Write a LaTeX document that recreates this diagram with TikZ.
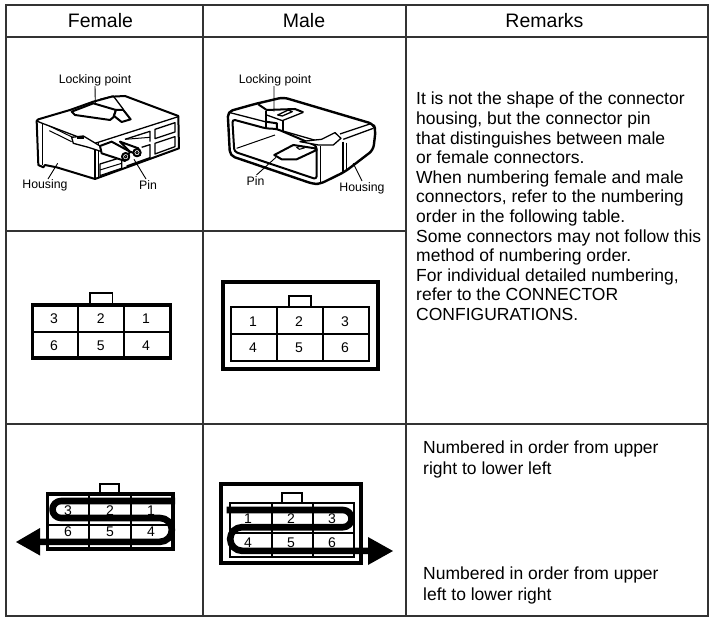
\documentclass[tikz,border=0pt]{standalone}
\usepackage{fontspec}
\setmainfont{Liberation Sans}
\tikzset{
 x=1pt,y=-1pt,
 grid/.style={line width=1.2pt,draw=black!80},
 head/.style={font=\fontsize{19.5}{22}\selectfont,anchor=center,inner sep=0pt},
 lab/.style={font=\fontsize{12.3}{14}\selectfont,inner sep=0pt},
 num/.style={font=\fontsize{14}{16}\selectfont,inner sep=0pt},
 body/.style={font=\fontsize{17.5}{19.6}\selectfont,inner sep=0pt,align=left,anchor=north west},
 cell/.style={line width=1.9pt},
 tabline/.style={line width=1.5pt},
 heavy/.style={line width=3.8pt},
 snake/.style={line width=6.6pt,line join=round},
 leader/.style={line width=0.9pt},
 art/.style={line width=1pt,line join=round},
 artm/.style={line width=1.3pt,line join=round},
 artb/.style={line width=2pt,line join=round},
}
\begin{document}
\begin{tikzpicture}
\useasboundingbox (0,0) rectangle (710,621);
\fill[white] (0,0) rectangle (710,621);
% table
\draw[grid] (6,5) rectangle (708,616);
\draw[grid] (6,37) -- (708,37);
\draw[grid] (203,5) -- (203,616);
\draw[grid] (406,5) -- (406,616);
\draw[grid] (6,231) -- (406,231);
\draw[grid] (6,424) -- (708,424);
\node[head] (hf) at (100.5,21) {Female};
\node[head] (hm) at (304,21) {Male};
\node[head] (hr) at (544.5,21) {Remarks};
% remarks
\node[body] (rem) at (416,92) {It is not the shape of the connector\\housing, but the connector pin\\that distinguishes between male\\or female connectors.\\When numbering female and male\\connectors, refer to the numbering\\order in the following table.\\Some connectors may not follow this\\method of numbering order.\\For individual detailed numbering,\\refer to the CONNECTOR\\CONFIGURATIONS.};
\node[body] (ra) at (423,440.5) {Numbered in order from upper\\[2pt]right to lower left};
\node[body] (rb) at (423,566.5) {Numbered in order from upper\\[1.5pt]left to lower right};

% female connector drawing
\begin{scope}[x=0.3333pt,y=-0.3333pt,shift={(30,180)}]
\draw[artb,fill=white] (80,183) -- (85,178) -- (180,150) -- (250,125) -- (305,110) -- (345,108) -- (505,168) -- (507,265) -- (255,357) -- (140,322) -- (105,315) -- (100,322) -- (85,315) -- cycle;
\draw[artm] (97,190) -- (97,315);
\draw[artm] (80,183) -- (97,190) -- (255,250) -- (505,170);
\draw[artm] (255,250) -- (255,357);
\draw[artm] (265,250) -- (265,350);
% holes
\draw[artm] (435,208) -- (495,188) -- (495,216) -- (435,236) -- cycle;
\draw[artm] (435,250) -- (495,230) -- (495,260) -- (435,282) -- cycle;
\draw[artm] (345,238) -- (420,214) -- (420,245);
\draw[art] (345,238) -- (420,232);
\draw[artm] (395,262) -- (420,254) -- (420,293) -- (350,318);
\draw[artm] (270,312) -- (335,292) -- (335,325) -- (270,347) -- cycle;
\draw[art] (270,330) -- (335,310);
% lock
\draw[artb,fill=white] (185,155) -- (250,130) -- (318,150) -- (310,172) -- (300,180) -- (195,165) -- cycle;
\draw[artb,fill=white] (318,150) -- (340,150) -- (362,178) -- (335,186) -- (312,168) -- cycle;
\draw[artm] (270,118) -- (310,108) -- (340,148);
% wire and crimp
\draw[art] (118,198) -- (188,232);
\draw[art] (118,212) -- (185,245);
\draw[artm,fill=white] (185,232) -- (220,228) -- (270,258) -- (275,275) -- (235,262) -- (190,250) -- cycle;
\fill[black] (200,228) rectangle (222,238);
\draw[artb,fill=white] (305,245) -- (360,275) -- (345,303) -- (275,280) -- (270,258) -- cycle;
\draw[artb,fill=white] (330,245) -- (385,265) -- (390,285) -- (360,275) -- cycle;
\draw[artb,fill=white] (347,290) circle (11);
\draw[artb,fill=white] (381,278) circle (11);
\draw[art] (347,290) circle (4);
\draw[art] (381,278) circle (4);
\coordinate (flock) at (256,132);
\coordinate (fhouse) at (143,310);
\coordinate (fpin) at (372,298);
\end{scope}
\node[lab] (fl) at (95,80) {Locking point};
\node[lab] (fh) at (45,185) {Housing};
\node[lab] (fp) at (148,185) {Pin};
\draw[leader] (fl) ++(0,6) -- (flock);
\draw[leader] (fh) ++(3,-6) -- (fhouse);
\draw[leader] (fp) ++(-2,-6) -- (fpin);

% male connector drawing
\begin{scope}[x=0.3333pt,y=-0.3333pt,shift={(615,180)}]
\draw[line width=2.4pt,line join=round,fill=white,rounded corners=5pt] (68,155) -- (150,132) -- (235,112) -- (505,192) -- (512,210) -- (505,270) -- (420,335) -- (345,372) -- (325,372) -- (75,287) -- cycle;
\draw[artb,rounded corners=3pt] (82,178) -- (182,205) -- (216,207) -- (335,258) -- (335,358) -- (88,275) -- cycle;
\draw[artm] (75,158) -- (180,185);
\draw[art] (95,265) -- (210,225);
\draw[artm] (346,258) -- (346,370);
\draw[artb] (415,245) -- (415,335);
\draw[art] (425,248) -- (425,330);
\draw[artm] (415,238) -- (505,205);
\draw[artm] (405,222) -- (495,192);
% lock
\draw[artb] (160,133) -- (185,150) -- (270,147) -- (295,157);
\draw[artb] (182,152) -- (182,205);
\draw[artm] (185,165) -- (232,182) -- (295,157);
\draw[artb] (182,185) -- (216,190) -- (216,207);
\draw[artb] (234,182) -- (234,213);
\draw[artm] (218,165) -- (250,150) -- (262,155) -- (232,168) -- cycle;
\draw[artm] (234,213) -- (345,245) -- (392,218);
% crimp
\draw[artm,fill=white] (285,245) -- (350,238) -- (390,218) -- (408,235) -- (385,255) -- (340,255) -- cycle;
% pin
\draw[artb,fill=white] (208,285) -- (265,255) -- (330,265) -- (335,270) -- (275,298) -- (230,298) -- cycle;
\draw[art] (275,262) -- (290,258) -- (298,264) -- (283,268) -- cycle;
\coordinate (mlock) at (207,155);
\coordinate (mpin) at (213,292);
\coordinate (mhouse) at (445,310);
\end{scope}
\node[lab] (ml) at (275,80) {Locking point};
\node[lab] (mp) at (255.5,181) {Pin};
\node[lab] (mh) at (362,188) {Housing};
\draw[leader] (ml) ++(-1,6) -- (mlock);
\draw[leader] (mp) ++(1,-6) -- (mpin);
\draw[leader] (mh) ++(0,-7) -- (mhouse);

% female numbering
\draw[heavy] (32.5,305) rectangle (170.5,358);
\draw[cell] (78,305) -- (78,358) (124,305) -- (124,358) (32.5,332) -- (170.5,332);
\draw[tabline] (90,305) |- (112.5,293) -- (112.5,305);
\node[num] (fa3) at (54,319) {3};
\node[num] (fa2) at (100.7,319) {2};
\node[num] (fa1) at (146,319) {1};
\node[num] (fa6) at (54,346) {6};
\node[num] (fa5) at (100.7,346) {5};
\node[num] (fa4) at (146,346) {4};

% male numbering
\draw[heavy] (223,282) rectangle (378,369);
\draw[cell] (231,307) rectangle (369,361);
\draw[cell] (277,307) -- (277,361) (323,307) -- (323,361) (231,334) -- (369,334);
\draw[tabline] (289,307) |- (311,296) -- (311,307);
\node[num] (ma1) at (253,322) {1};
\node[num] (ma2) at (299,322) {2};
\node[num] (ma3) at (345,322) {3};
\node[num] (ma4) at (253,348) {4};
\node[num] (ma5) at (299,348) {5};
\node[num] (ma6) at (345,348) {6};

% female order
\draw[heavy] (47.5,494) rectangle (173,549);
\draw[tabline] (89,494) -- (89,549) (131,494) -- (131,549) (47.5,525) -- (173,525);
\draw[tabline] (100,493) |- (119,484) -- (119,493);
\draw[snake] (175,501) -- (61,501) arc[start angle=270,end angle=90,radius=8.5] -- (160,518) arc[start angle=-90,end angle=90,radius=11.9] -- (40,541.8);
\fill (40,528) -- (16,542) -- (40,555.5) -- cycle;
\node[num] (fb3) at (68,511) {3};
\node[num] (fb2) at (110,511) {2};
\node[num] (fb1) at (151,511) {1};
\node[num] (fb6) at (68,532) {6};
\node[num] (fb5) at (110,532) {5};
\node[num] (fb4) at (151,532) {4};

% male order
\draw[heavy] (221,484) rectangle (361,563);
\draw[tabline] (230,503) rectangle (354,557);
\draw[tabline] (272,503) -- (272,557) (313,503) -- (313,557) (230,533) -- (354,533);
\draw[tabline] (282,503) |- (302,493) -- (302,503);
\draw[snake] (226.7,510) -- (343,510) arc[start angle=-90,end angle=90,radius=8.6] -- (242,527.2) arc[start angle=270,end angle=90,radius=11.8] -- (368,550.8);
\fill (368,537) -- (393,551) -- (368,565) -- cycle;
\node[num] (mb1) at (248,519) {1};
\node[num] (mb2) at (291,519) {2};
\node[num] (mb3) at (332,519) {3};
\node[num] (mb4) at (248,543) {4};
\node[num] (mb5) at (291,543) {5};
\node[num] (mb6) at (332,543) {6};
\end{tikzpicture}
\end{document}
